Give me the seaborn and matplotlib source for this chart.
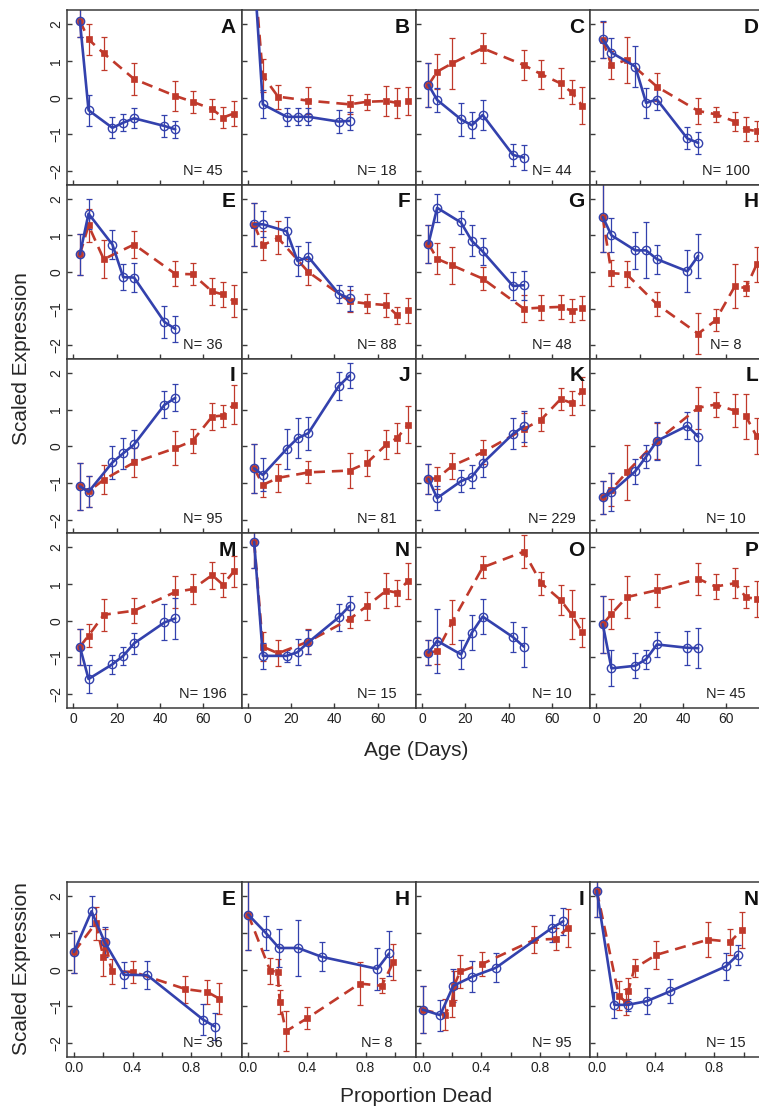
import numpy as np
import pandas as pd
import matplotlib
matplotlib.use("Agg")
import matplotlib.pyplot as plt
import seaborn as sns

# ---- data ----
red_days = [3, 7, 14, 28, 47, 55, 64, 69, 74]
blue_days = [3, 7, 18, 23, 28, 42, 47]
red_pdead = [0.0, 0.15, 0.2, 0.215, 0.257, 0.404, 0.76, 0.91, 0.99]
blue_pdead = [0.0, 0.12, 0.21, 0.34, 0.50, 0.88, 0.96]

panel_letters = list("ABCDEFGHIJKLMNOP")
bottom_letters = ["E", "H", "I", "N"]
n_genes = [45, 18, 44, 100, 36, 88, 48, 8, 95, 81, 229, 10, 196, 15, 10, 45]

red_mean = {
    "A": [2.1, 1.59, 1.21, 0.51, 0.05, -0.11, -0.31, -0.54, -0.43],
    "B": [3.48, 0.6, 0.03, -0.08, -0.18, -0.11, -0.09, -0.14, -0.09],
    "C": [0.35, 0.71, 0.94, 1.35, 0.89, 0.64, 0.39, 0.15, -0.22],
    "D": [1.57, 0.89, 1.03, 0.3, -0.36, -0.45, -0.65, -0.86, -0.91],
    "E": [0.48, 1.27, 0.35, 0.75, -0.05, -0.06, -0.53, -0.61, -0.79],
    "F": [1.29, 0.73, 0.93, 0.0, -0.8, -0.86, -0.9, -1.18, -1.04],
    "G": [0.77, 0.36, 0.18, -0.18, -1.0, -0.97, -0.95, -1.05, -0.98],
    "H": [1.5, -0.03, -0.06, -0.88, -1.68, -1.32, -0.38, -0.44, 0.21],
    "I": [-1.09, -1.23, -0.91, -0.44, -0.05, 0.15, 0.81, 0.84, 1.14],
    "J": [-0.6, -1.05, -0.86, -0.71, -0.66, -0.45, 0.05, 0.23, 0.59],
    "K": [-0.89, -0.87, -0.53, -0.16, 0.47, 0.73, 1.29, 1.18, 1.52],
    "L": [-1.39, -1.18, -0.71, 0.15, 1.05, 1.14, 0.97, 0.82, 0.27],
    "M": [-0.71, -0.41, 0.16, 0.27, 0.78, 0.86, 1.24, 0.98, 1.34],
    "N": [2.15, -0.71, -0.89, -0.57, 0.04, 0.4, 0.82, 0.76, 1.09],
    "O": [-0.87, -0.83, -0.03, 1.45, 1.88, 1.02, 0.56, 0.17, -0.32],
    "P": [-0.1, 0.18, 0.64, 0.83, 1.14, 0.93, 1.02, 0.64, 0.59],
}
red_err = {
    "A": [0.45, 0.42, 0.45, 0.44, 0.41, 0.3, 0.28, 0.28, 0.35],
    "B": [0.6, 0.45, 0.33, 0.37, 0.26, 0.22, 0.4, 0.4, 0.37],
    "C": [0.6, 0.47, 0.7, 0.41, 0.4, 0.4, 0.41, 0.33, 0.5],
    "D": [0.5, 0.37, 0.63, 0.38, 0.35, 0.2, 0.27, 0.33, 0.27],
    "E": [0.57, 0.45, 0.52, 0.36, 0.34, 0.3, 0.37, 0.34, 0.43],
    "F": [0.59, 0.4, 0.45, 0.36, 0.3, 0.27, 0.32, 0.23, 0.34],
    "G": [0.52, 0.42, 0.5, 0.32, 0.37, 0.35, 0.33, 0.32, 0.32],
    "H": [0.96, 0.36, 0.36, 0.33, 0.55, 0.3, 0.59, 0.2, 0.48],
    "I": [0.64, 0.42, 0.39, 0.39, 0.46, 0.33, 0.37, 0.3, 0.52],
    "J": [0.66, 0.32, 0.39, 0.3, 0.47, 0.36, 0.4, 0.4, 0.51],
    "K": [0.41, 0.3, 0.36, 0.32, 0.45, 0.32, 0.3, 0.33, 0.38],
    "L": [0.45, 0.44, 0.75, 0.49, 0.58, 0.33, 0.45, 0.61, 0.49],
    "M": [0.49, 0.32, 0.43, 0.34, 0.44, 0.41, 0.37, 0.33, 0.41],
    "N": [0.72, 0.4, 0.35, 0.34, 0.25, 0.38, 0.47, 0.35, 0.49],
    "O": [0.33, 0.35, 0.6, 0.3, 0.45, 0.31, 0.4, 0.67, 0.39],
    "P": [0.77, 0.42, 0.57, 0.45, 0.43, 0.35, 0.41, 0.3, 0.5],
}
blue_mean = {
    "A": [2.1, -0.34, -0.82, -0.68, -0.56, -0.77, -0.86],
    "B": [3.46, -0.18, -0.52, -0.52, -0.52, -0.65, -0.63],
    "C": [0.35, -0.06, -0.59, -0.75, -0.47, -1.56, -1.63],
    "D": [1.59, 1.23, 0.85, -0.14, -0.05, -1.11, -1.23],
    "E": [0.48, 1.59, 0.75, -0.14, -0.15, -1.36, -1.55],
    "F": [1.3, 1.3, 1.11, 0.3, 0.41, -0.59, -0.72],
    "G": [0.77, 1.75, 1.35, 0.85, 0.56, -0.38, -0.36],
    "H": [1.5, 1.0, 0.59, 0.59, 0.35, 0.02, 0.44],
    "I": [-1.09, -1.24, -0.44, -0.19, 0.05, 1.13, 1.32],
    "J": [-0.6, -0.78, -0.07, 0.22, 0.36, 1.64, 1.93],
    "K": [-0.89, -1.41, -0.95, -0.83, -0.46, 0.34, 0.55],
    "L": [-1.39, -1.25, -0.68, -0.28, 0.15, 0.56, 0.26],
    "M": [-0.71, -1.59, -1.19, -0.96, -0.62, -0.05, 0.06],
    "N": [2.15, -0.96, -0.96, -0.86, -0.59, 0.09, 0.4],
    "O": [-0.87, -0.55, -0.92, -0.33, 0.11, -0.45, -0.71],
    "P": [-0.1, -1.3, -1.23, -1.05, -0.65, -0.74, -0.75],
}
blue_err = {
    "A": [0.45, 0.42, 0.29, 0.24, 0.27, 0.29, 0.23],
    "B": [0.6, 0.38, 0.25, 0.23, 0.23, 0.32, 0.25],
    "C": [0.6, 0.32, 0.45, 0.35, 0.42, 0.31, 0.33],
    "D": [0.5, 0.4, 0.55, 0.4, 0.28, 0.3, 0.3],
    "E": [0.57, 0.41, 0.4, 0.35, 0.39, 0.43, 0.36],
    "F": [0.59, 0.35, 0.4, 0.42, 0.41, 0.25, 0.33],
    "G": [0.52, 0.39, 0.31, 0.42, 0.38, 0.39, 0.39],
    "H": [0.96, 0.46, 0.51, 0.76, 0.4, 0.57, 0.6],
    "I": [0.64, 0.42, 0.45, 0.43, 0.39, 0.37, 0.37],
    "J": [0.66, 0.45, 0.55, 0.55, 0.45, 0.38, 0.34],
    "K": [0.41, 0.32, 0.3, 0.31, 0.37, 0.42, 0.42],
    "L": [0.45, 0.51, 0.34, 0.32, 0.51, 0.37, 0.77],
    "M": [0.49, 0.39, 0.26, 0.25, 0.29, 0.49, 0.55],
    "N": [0.72, 0.36, 0.16, 0.35, 0.33, 0.37, 0.28],
    "O": [0.33, 0.88, 0.4, 0.47, 0.47, 0.4, 0.55],
    "P": [0.77, 0.49, 0.34, 0.26, 0.33, 0.46, 0.55],
}

# ---- style ----
RED = "#C0392B"
BLUE = "#3341AD"
AX_COL = "#3a3a3a"

sns.set_theme(style="ticks")
plt.rcParams["font.family"] = ["Liberation Sans", "DejaVu Sans"]
plt.rcParams["axes.edgecolor"] = AX_COL
plt.rcParams["axes.linewidth"] = 1.1

W, H = 759, 1112
fig = plt.figure(figsize=(W / 100, H / 100), dpi=100)

LEFT = 67.3
PW = 174.3
PH = 174.3
TOP1 = 10.4
TOP2 = 882.3
YLIM = (-2.37, 2.38)


def draw_panel(ax, letter, xr, xb):
    """one panel: red dashed squares + blue solid open circles"""
    rdf = pd.DataFrame({"x": xr, "y": red_mean[letter], "e": red_err[letter]})
    bdf = pd.DataFrame({"x": xb, "y": blue_mean[letter], "e": blue_err[letter]})

    ax.errorbar(rdf["x"], rdf["y"], yerr=rdf["e"], fmt="none", ecolor=RED,
                elinewidth=0.9, capsize=2.0, capthick=0.9, zorder=2)
    ax.errorbar(bdf["x"], bdf["y"], yerr=bdf["e"], fmt="none", ecolor=BLUE,
                elinewidth=0.9, capsize=2.0, capthick=0.9, zorder=2)

    sns.lineplot(data=rdf, x="x", y="y", ax=ax, sort=False, color=RED,
                 linewidth=1.9, linestyle=(0, (4.2, 2.6)), marker="s",
                 markersize=5, markeredgecolor=RED, markerfacecolor=RED,
                 markeredgewidth=0.5, zorder=3)
    sns.lineplot(data=bdf, x="x", y="y", ax=ax, sort=False, color=BLUE,
                 linewidth=1.9, marker="o", markersize=6,
                 markeredgecolor=BLUE, markerfacecolor="none",
                 markeredgewidth=1.0, zorder=4)

    ax.set_ylim(*YLIM)
    ax.set_yticks([-2, -1, 0, 1, 2])
    ax.set_xlabel("")
    ax.set_ylabel("")
    ax.tick_params(direction="in", length=3.5, width=1.0, colors=AX_COL,
                   labelcolor="#222222", labelsize=10, pad=3)
    ax.text(0.966, 0.958, letter, transform=ax.transAxes, ha="right", va="top",
            fontsize=15, fontweight="bold", color="#111111")
    n = n_genes[panel_letters.index(letter)]
    ax.text(0.778, 0.04, f"N= {n}", transform=ax.transAxes, ha="center",
            va="bottom", fontsize=10.5, color="#222222")


# ---- top 4x4 grid: age ----
for i, letter in enumerate(panel_letters):
    r, c = divmod(i, 4)
    x0 = (LEFT + c * PW) / W
    y0 = 1 - (TOP1 + (r + 1) * PH) / H
    ax = fig.add_axes([x0, y0, PW / W, PH / H])
    draw_panel(ax, letter, red_days, blue_days)
    ax.set_xlim(-2.8, 77.6)
    ax.set_xticks([0, 20, 40, 60])
    if r < 3:
        ax.set_xticklabels([])
    if c > 0:
        ax.set_yticklabels([])
    else:
        ax.tick_params(axis="y", labelrotation=90)
        for t in ax.get_yticklabels():
            t.set_va("center")

# ---- bottom row: proportion dead ----
for c, letter in enumerate(bottom_letters):
    x0 = (LEFT + c * PW) / W
    y0 = 1 - (TOP2 + PH) / H
    ax = fig.add_axes([x0, y0, PW / W, PH / H])
    draw_panel(ax, letter, red_pdead, blue_pdead)
    ax.set_xlim(-0.045, 1.143)
    ax.set_xticks([0, 0.2, 0.4, 0.6, 0.8, 1.0])
    ax.set_xticklabels(["0.0", "", "0.4", "", "0.8", ""])
    if c > 0:
        ax.set_yticklabels([])
    else:
        ax.tick_params(axis="y", labelrotation=90)
        for t in ax.get_yticklabels():
            t.set_va("center")

# ---- axis titles ----
grid_cx = (LEFT + 2 * PW) / W
fig.text(grid_cx, 1 - 750 / H, "Age (Days)", ha="center", va="center", fontsize=15)
fig.text(grid_cx, 1 - 1097 / H, "Proportion Dead", ha="center", va="center", fontsize=15)
fig.text(22 / W, 1 - 359 / H, "Scaled Expression", ha="center", va="center",
         rotation=90, fontsize=15)
fig.text(22 / W, 1 - 969 / H, "Scaled Expression", ha="center", va="center",
         rotation=90, fontsize=15)

fig.savefig("out.png", dpi=100, facecolor="white")
